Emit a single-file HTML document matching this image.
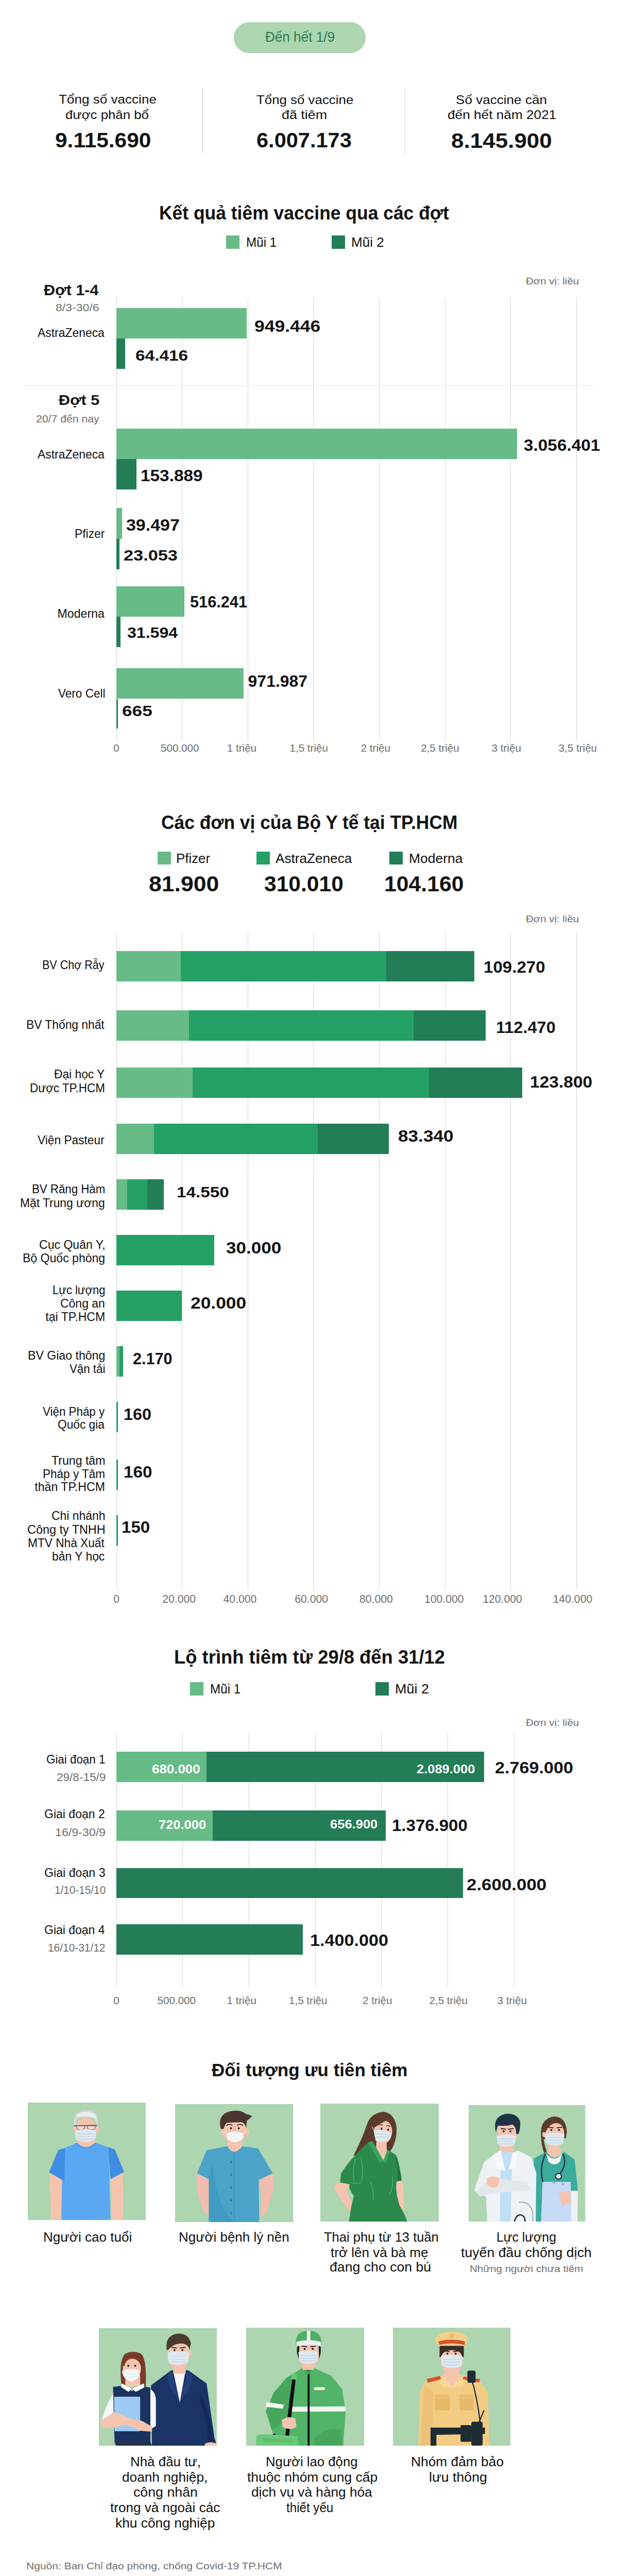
<!DOCTYPE html>
<html><head><meta charset="utf-8"><title>Infographic</title>
<style>
html,body{margin:0;padding:0;background:#fff;}
body{width:1200px;height:5144px;position:relative;overflow:hidden;font-family:"Liberation Sans",sans-serif;}
.t{position:absolute;white-space:nowrap;transform-origin:0 0;}
.b{font-weight:bold}
.q{position:absolute;}
svg{position:absolute;display:block}
</style></head><body>

<div class="q" style="left:454px;top:42.5px;width:256px;height:60.5px;background:#acd5b0;border-radius:31px;"></div>
<div class="q" style="left:393px;top:171.5px;width:1px;height:126px;background:#d0d0d0;"></div>
<div class="q" style="left:786px;top:171.5px;width:1px;height:126px;background:#d0d0d0;"></div>
<div class="q" style="left:439px;top:457px;width:26px;height:26px;background:#67bb87;"></div>
<div class="q" style="left:644px;top:457px;width:26px;height:26px;background:#237d57;"></div>
<div class="q" style="left:226px;top:578px;width:1px;height:859.5px;background:#d4d4d4;"></div>
<div class="q" style="left:353px;top:578px;width:1px;height:859.5px;background:#d4d4d4;"></div>
<div class="q" style="left:481px;top:578px;width:1px;height:859.5px;background:#d4d4d4;"></div>
<div class="q" style="left:608px;top:578px;width:1px;height:859.5px;background:#d4d4d4;"></div>
<div class="q" style="left:736px;top:578px;width:1px;height:859.5px;background:#d4d4d4;"></div>
<div class="q" style="left:864px;top:578px;width:1px;height:859.5px;background:#d4d4d4;"></div>
<div class="q" style="left:991px;top:578px;width:1px;height:859.5px;background:#d4d4d4;"></div>
<div class="q" style="left:1119px;top:578px;width:1px;height:859.5px;background:#d4d4d4;"></div>
<div class="q" style="left:46px;top:747.5px;width:1106px;height:1.5px;background:#e4e4e4;"></div>
<div class="q" style="left:226px;top:598px;width:253.3px;height:59px;background:#67bb87;"></div>
<div class="q" style="left:226px;top:657px;width:16.5px;height:59px;background:#237d57;"></div>
<div class="q" style="left:226px;top:832px;width:778px;height:59px;background:#67bb87;"></div>
<div class="q" style="left:226px;top:891px;width:39px;height:59px;background:#237d57;"></div>
<div class="q" style="left:226px;top:986px;width:10.5px;height:59.5px;background:#67bb87;"></div>
<div class="q" style="left:226px;top:1045.5px;width:6.2px;height:59.3px;background:#237d57;"></div>
<div class="q" style="left:226px;top:1138.3px;width:131.5px;height:59px;background:#67bb87;"></div>
<div class="q" style="left:226px;top:1197.3px;width:8px;height:58.7px;background:#237d57;"></div>
<div class="q" style="left:226px;top:1297.3px;width:247.3px;height:59.2px;background:#67bb87;"></div>
<div class="q" style="left:226px;top:1356.5px;width:3px;height:57.5px;background:#237d57;"></div>
<div class="q" style="left:306px;top:1652.5px;width:25.5px;height:25.5px;background:#67bb87;"></div>
<div class="q" style="left:498px;top:1652.5px;width:26px;height:25.5px;background:#25a064;"></div>
<div class="q" style="left:756px;top:1652.5px;width:26px;height:25.5px;background:#237d57;"></div>
<div class="q" style="left:226px;top:1810px;width:1px;height:1275px;background:#d4d4d4;"></div>
<div class="q" style="left:353px;top:1810px;width:1px;height:1275px;background:#d4d4d4;"></div>
<div class="q" style="left:481px;top:1810px;width:1px;height:1275px;background:#d4d4d4;"></div>
<div class="q" style="left:608px;top:1810px;width:1px;height:1275px;background:#d4d4d4;"></div>
<div class="q" style="left:736px;top:1810px;width:1px;height:1275px;background:#d4d4d4;"></div>
<div class="q" style="left:864px;top:1810px;width:1px;height:1275px;background:#d4d4d4;"></div>
<div class="q" style="left:991px;top:1810px;width:1px;height:1275px;background:#d4d4d4;"></div>
<div class="q" style="left:1119px;top:1810px;width:1px;height:1275px;background:#d4d4d4;"></div>
<div class="q" style="left:226px;top:1846px;width:125px;height:59px;background:#67bb87;"></div>
<div class="q" style="left:351px;top:1846px;width:398.5px;height:59px;background:#25a064;"></div>
<div class="q" style="left:749.5px;top:1846px;width:171.5px;height:59px;background:#237d57;"></div>
<div class="q" style="left:226px;top:1960.5px;width:140.5px;height:59px;background:#67bb87;"></div>
<div class="q" style="left:366.5px;top:1960.5px;width:436.5px;height:59px;background:#25a064;"></div>
<div class="q" style="left:803px;top:1960.5px;width:139.5px;height:59px;background:#237d57;"></div>
<div class="q" style="left:226px;top:2072px;width:148px;height:59px;background:#67bb87;"></div>
<div class="q" style="left:374px;top:2072px;width:459px;height:59px;background:#25a064;"></div>
<div class="q" style="left:833px;top:2072px;width:180.6px;height:59px;background:#237d57;"></div>
<div class="q" style="left:226px;top:2181px;width:72.8px;height:59px;background:#67bb87;"></div>
<div class="q" style="left:298.8px;top:2181px;width:317.8px;height:59px;background:#25a064;"></div>
<div class="q" style="left:616.6px;top:2181px;width:138.8px;height:59px;background:#237d57;"></div>
<div class="q" style="left:226px;top:2289px;width:21.2px;height:59px;background:#67bb87;"></div>
<div class="q" style="left:247.2px;top:2289px;width:38.8px;height:59px;background:#25a064;"></div>
<div class="q" style="left:286px;top:2289px;width:32px;height:59px;background:#237d57;"></div>
<div class="q" style="left:226px;top:2397px;width:190px;height:59px;background:#25a064;"></div>
<div class="q" style="left:226px;top:2505px;width:127px;height:59px;background:#25a064;"></div>
<div class="q" style="left:226px;top:2613px;width:6px;height:59px;background:#67bb87;"></div>
<div class="q" style="left:232px;top:2613px;width:6.6px;height:59px;background:#25a064;"></div>
<div class="q" style="left:226px;top:2721px;width:3px;height:59px;background:#25a064;"></div>
<div class="q" style="left:226px;top:2832.5px;width:3px;height:59px;background:#25a064;"></div>
<div class="q" style="left:226px;top:2940.6px;width:3px;height:59px;background:#25a064;"></div>
<div class="q" style="left:369px;top:3265px;width:26px;height:25.5px;background:#67bb87;"></div>
<div class="q" style="left:729px;top:3265px;width:26px;height:25.5px;background:#237d57;"></div>
<div class="q" style="left:226px;top:3363px;width:1px;height:494px;background:#d4d4d4;"></div>
<div class="q" style="left:354px;top:3363px;width:1px;height:494px;background:#d4d4d4;"></div>
<div class="q" style="left:483px;top:3363px;width:1px;height:494px;background:#d4d4d4;"></div>
<div class="q" style="left:612px;top:3363px;width:1px;height:494px;background:#d4d4d4;"></div>
<div class="q" style="left:740px;top:3363px;width:1px;height:494px;background:#d4d4d4;"></div>
<div class="q" style="left:869px;top:3363px;width:1px;height:494px;background:#d4d4d4;"></div>
<div class="q" style="left:998px;top:3363px;width:1px;height:494px;background:#d4d4d4;"></div>
<div class="q" style="left:226px;top:3400px;width:174.6px;height:58.5px;background:#67bb87;"></div>
<div class="q" style="left:400.6px;top:3400px;width:539.2px;height:58.5px;background:#237d57;"></div>
<div class="q" style="left:226px;top:3514.3px;width:186.6px;height:58.3px;background:#67bb87;"></div>
<div class="q" style="left:412.6px;top:3514.3px;width:336.2px;height:58.3px;background:#237d57;"></div>
<div class="q" style="left:226px;top:3625.6px;width:673.2px;height:58.6px;background:#237d57;"></div>
<div class="q" style="left:226px;top:3735px;width:362.3px;height:58.7px;background:#237d57;"></div>
<div class="t" style="left:514.5px;top:58.93px;font-size:26.89px;line-height:26.89px;color:#2b7d52;transform:scaleX(0.9710);">Đến hết 1/9</div>
<div class="t" style="left:114px;top:181.28px;font-size:24.71px;line-height:24.71px;color:#111;transform:scaleX(1.0556);">Tổng số vaccine</div>
<div class="t" style="left:126.96px;top:210.68px;font-size:24.71px;line-height:24.71px;color:#111;transform:scaleX(1.0447);">được phân bổ</div>
<div class="t b" style="left:106.97px;top:252.05px;font-size:41.28px;line-height:41.28px;color:#141414;transform:scaleX(1.0281);">9.115.690</div>
<div class="t" style="left:498.3px;top:181.58px;font-size:24.71px;line-height:24.71px;color:#111;transform:scaleX(1.0467);">Tổng số vaccine</div>
<div class="t" style="left:546.56px;top:210.78px;font-size:24.71px;line-height:24.71px;color:#111;transform:scaleX(1.0881);">đã tiêm</div>
<div class="t b" style="left:497.98px;top:252.02px;font-size:40.84px;line-height:40.84px;color:#141414;transform:scaleX(1.0171);">6.007.173</div>
<div class="t" style="left:884.94px;top:181.68px;font-size:24.71px;line-height:24.71px;color:#111;transform:scaleX(1.0562);">Số vaccine cần</div>
<div class="t" style="left:868.54px;top:210.68px;font-size:24.71px;line-height:24.71px;color:#111;transform:scaleX(1.0613);">đến hết năm 2021</div>
<div class="t b" style="left:876.12px;top:253.32px;font-size:40.84px;line-height:40.84px;color:#141414;transform:scaleX(1.0782);">8.145.900</div>
<div class="t b" style="left:309.29px;top:395.12px;font-size:37.06px;line-height:37.06px;color:#141414;transform:scaleX(0.9565);">Kết quả tiêm vaccine qua các đợt</div>
<div class="t" style="left:478.13px;top:457.69px;font-size:25.87px;line-height:25.87px;color:#111;transform:scaleX(0.9367);">Mũi 1</div>
<div class="t" style="left:681.59px;top:457.69px;font-size:25.87px;line-height:25.87px;color:#111;transform:scaleX(1.0057);">Mũi 2</div>
<div class="t" style="left:1020.5px;top:536.5px;font-size:18.9px;line-height:18.9px;color:#6e6e6e;transform:scaleX(1.0818);">Đơn vị: liều</div>
<div class="t b" style="left:85px;top:547.83px;font-size:30.09px;line-height:30.09px;color:#141414;transform:scaleX(1.0131);">Đợt 1-4</div>
<div class="t" style="left:108px;top:587.4px;font-size:20.78px;line-height:20.78px;color:#6e6e6e;transform:scaleX(1.1104);">8/3-30/6</div>
<div class="t" style="left:73px;top:635.13px;font-size:23.11px;line-height:23.11px;color:#111;transform:scaleX(0.9911);">AstraZeneca</div>
<div class="t b" style="left:493.84px;top:618.16px;font-size:30.52px;line-height:30.52px;color:#141414;transform:scaleX(1.1631);">949.446</div>
<div class="t b" style="left:262.88px;top:675.27px;font-size:29.8px;line-height:29.8px;color:#141414;transform:scaleX(1.1215);">64.416</div>
<div class="t b" style="left:114px;top:762.85px;font-size:28.05px;line-height:28.05px;color:#141414;transform:scaleX(1.0840);">Đợt 5</div>
<div class="t" style="left:69.59px;top:802.16px;font-size:21.08px;line-height:21.08px;color:#6e6e6e;transform:scaleX(1.0060);">20/7 đến nay</div>
<div class="t" style="left:73px;top:871.03px;font-size:23.11px;line-height:23.11px;color:#111;transform:scaleX(0.9911);">AstraZeneca</div>
<div class="t b" style="left:1017.4px;top:847.93px;font-size:31.98px;line-height:31.98px;color:#141414;transform:scaleX(1.0435);">3.056.401</div>
<div class="t b" style="left:272.94px;top:908.29px;font-size:31.54px;line-height:31.54px;color:#141414;transform:scaleX(1.0583);">153.889</div>
<div class="t" style="left:144.61px;top:1025.43px;font-size:23.11px;line-height:23.11px;color:#111;transform:scaleX(0.9884);">Pfizer</div>
<div class="t b" style="left:244.7px;top:1003.86px;font-size:30.52px;line-height:30.52px;color:#141414;transform:scaleX(1.1119);">39.497</div>
<div class="t b" style="left:240.14px;top:1063.32px;font-size:29.51px;line-height:29.51px;color:#141414;transform:scaleX(1.1630);">23.053</div>
<div class="t" style="left:111.6px;top:1179.73px;font-size:23.11px;line-height:23.11px;color:#111;">Moderna</div>
<div class="t b" style="left:369px;top:1152.66px;font-size:30.52px;line-height:30.52px;color:#141414;transform:scaleX(1.0060);">516.241</div>
<div class="t b" style="left:247px;top:1212.73px;font-size:30.09px;line-height:30.09px;color:#141414;transform:scaleX(1.0664);">31.594</div>
<div class="t" style="left:112.6px;top:1335.43px;font-size:23.11px;line-height:23.11px;color:#111;transform:scaleX(0.9759);">Vero Cell</div>
<div class="t b" style="left:481.6px;top:1305.63px;font-size:31.98px;line-height:31.98px;color:#141414;">971.987</div>
<div class="t b" style="left:237.31px;top:1365.02px;font-size:29.51px;line-height:29.51px;color:#141414;transform:scaleX(1.1942);">665</div>
<div class="t" style="left:220.3px;top:1442.22px;font-size:20.64px;line-height:20.64px;color:#6e6e6e;">0</div>
<div class="t" style="left:311.96px;top:1442.22px;font-size:20.64px;line-height:20.64px;color:#6e6e6e;">500.000</div>
<div class="t" style="left:440.77px;top:1442.22px;font-size:20.64px;line-height:20.64px;color:#6e6e6e;">1 triệu</div>
<div class="t" style="left:562.47px;top:1442.22px;font-size:20.64px;line-height:20.64px;color:#6e6e6e;">1,5 triệu</div>
<div class="t" style="left:700.67px;top:1442.22px;font-size:20.64px;line-height:20.64px;color:#6e6e6e;">2 triệu</div>
<div class="t" style="left:817.17px;top:1442.22px;font-size:20.64px;line-height:20.64px;color:#6e6e6e;">2,5 triệu</div>
<div class="t" style="left:954.57px;top:1442.22px;font-size:20.64px;line-height:20.64px;color:#6e6e6e;">3 triệu</div>
<div class="t" style="left:1084.57px;top:1442.22px;font-size:20.64px;line-height:20.64px;color:#6e6e6e;">3,5 triệu</div>
<div class="t b" style="left:312.98px;top:1579.23px;font-size:36.34px;line-height:36.34px;color:#141414;transform:scaleX(0.9734);">Các đơn vị của Bộ Y tế tại TP.HCM</div>
<div class="t" style="left:341.62px;top:1653.25px;font-size:26.16px;line-height:26.16px;color:#111;transform:scaleX(0.9885);">Pfizer</div>
<div class="t" style="left:535px;top:1653.25px;font-size:26.16px;line-height:26.16px;color:#111;">AstraZeneca</div>
<div class="t" style="left:793.97px;top:1653.25px;font-size:26.16px;line-height:26.16px;color:#111;transform:scaleX(1.0129);">Moderna</div>
<div class="t b" style="left:289.34px;top:1695.31px;font-size:42.15px;line-height:42.15px;color:#141414;transform:scaleX(1.0581);">81.900</div>
<div class="t b" style="left:512.6px;top:1695.31px;font-size:42.15px;line-height:42.15px;color:#141414;transform:scaleX(1.0100);">310.010</div>
<div class="t b" style="left:745.97px;top:1695.31px;font-size:42.15px;line-height:42.15px;color:#141414;transform:scaleX(1.0142);">104.160</div>
<div class="t" style="left:1020.5px;top:1774.5px;font-size:18.9px;line-height:18.9px;color:#6e6e6e;transform:scaleX(1.0818);">Đơn vị: liều</div>
<div class="t" style="left:82.37px;top:1862.13px;font-size:23.11px;line-height:23.11px;color:#111;transform:scaleX(0.9309);">BV Chợ Rẫy</div>
<div class="t b" style="left:938.95px;top:1861.99px;font-size:31.54px;line-height:31.54px;color:#141414;transform:scaleX(1.0494);">109.270</div>
<div class="t" style="left:50.61px;top:1978.03px;font-size:23.11px;line-height:23.11px;color:#111;transform:scaleX(0.9867);">BV Thống nhất</div>
<div class="t b" style="left:962.66px;top:1978.54px;font-size:31.25px;line-height:31.25px;color:#141414;transform:scaleX(1.0404);">112.470</div>
<div class="t" style="left:105px;top:2074.43px;font-size:23.11px;line-height:23.11px;color:#111;transform:scaleX(0.9852);">Đại học Y</div>
<div class="t" style="left:58.33px;top:2101.13px;font-size:23.11px;line-height:23.11px;color:#111;transform:scaleX(0.9688);">Dược TP.HCM</div>
<div class="t b" style="left:1029.41px;top:2086.31px;font-size:30.81px;line-height:30.81px;color:#141414;transform:scaleX(1.0889);">123.800</div>
<div class="t" style="left:73.3px;top:2202.13px;font-size:23.11px;line-height:23.11px;color:#111;transform:scaleX(0.9833);">Viện Pasteur</div>
<div class="t b" style="left:773.49px;top:2189.57px;font-size:31.69px;line-height:31.69px;color:#141414;transform:scaleX(1.1096);">83.340</div>
<div class="t" style="left:62.34px;top:2297.13px;font-size:23.11px;line-height:23.11px;color:#111;transform:scaleX(0.9625);">BV Răng Hàm</div>
<div class="t" style="left:39.01px;top:2323.73px;font-size:23.11px;line-height:23.11px;color:#111;transform:scaleX(0.9876);">Mặt Trung ương</div>
<div class="t b" style="left:343.49px;top:2299.23px;font-size:30.09px;line-height:30.09px;color:#141414;transform:scaleX(1.1067);">14.550</div>
<div class="t" style="left:75.7px;top:2404.73px;font-size:23.11px;line-height:23.11px;color:#111;transform:scaleX(0.9976);">Cục Quân Y,</div>
<div class="t" style="left:44px;top:2431.43px;font-size:23.11px;line-height:23.11px;color:#111;transform:scaleX(0.9972);">Bộ Quốc phòng</div>
<div class="t b" style="left:439.3px;top:2406.76px;font-size:30.52px;line-height:30.52px;color:#141414;transform:scaleX(1.1487);">30.000</div>
<div class="t" style="left:101.75px;top:2493.13px;font-size:23.11px;line-height:23.11px;color:#111;transform:scaleX(0.9499);">Lực lượng</div>
<div class="t" style="left:117.31px;top:2518.73px;font-size:23.11px;line-height:23.11px;color:#111;transform:scaleX(0.9939);">Công an</div>
<div class="t" style="left:88.3px;top:2545.43px;font-size:23.11px;line-height:23.11px;color:#111;">tại TP.HCM</div>
<div class="t b" style="left:369.64px;top:2514.16px;font-size:30.52px;line-height:30.52px;color:#141414;transform:scaleX(1.1591);">20.000</div>
<div class="t" style="left:54px;top:2620.43px;font-size:23.11px;line-height:23.11px;color:#111;">BV Giao thông</div>
<div class="t" style="left:135px;top:2646.43px;font-size:23.11px;line-height:23.11px;color:#111;transform:scaleX(0.9645);">Vận tải</div>
<div class="t b" style="left:258.03px;top:2622.02px;font-size:31.4px;line-height:31.4px;color:#141414;transform:scaleX(0.9732);">2.170</div>
<div class="t" style="left:82.7px;top:2728.73px;font-size:23.11px;line-height:23.11px;color:#111;transform:scaleX(0.9675);">Viện Pháp y</div>
<div class="t" style="left:112.32px;top:2754.43px;font-size:23.11px;line-height:23.11px;color:#111;transform:scaleX(0.9821);">Quốc gia</div>
<div class="t b" style="left:239.77px;top:2729.72px;font-size:31.4px;line-height:31.4px;color:#141414;transform:scaleX(1.0315);">160</div>
<div class="t" style="left:100px;top:2823.73px;font-size:23.11px;line-height:23.11px;color:#111;">Trung tâm</div>
<div class="t" style="left:83.02px;top:2849.73px;font-size:23.11px;line-height:23.11px;color:#111;transform:scaleX(0.9752);">Pháp y Tâm</div>
<div class="t" style="left:67.3px;top:2875.43px;font-size:23.11px;line-height:23.11px;color:#111;">thần TP.HCM</div>
<div class="t b" style="left:240.42px;top:2840.93px;font-size:31.98px;line-height:31.98px;color:#141414;transform:scaleX(1.0423);">160</div>
<div class="t" style="left:99.71px;top:2931.43px;font-size:23.11px;line-height:23.11px;color:#111;transform:scaleX(0.9913);">Chi nhánh</div>
<div class="t" style="left:52.99px;top:2958.03px;font-size:23.11px;line-height:23.11px;color:#111;transform:scaleX(1.0118);">Công ty TNHH</div>
<div class="t" style="left:54.02px;top:2984.43px;font-size:23.11px;line-height:23.11px;color:#111;transform:scaleX(0.9813);">MTV Nhà Xuất</div>
<div class="t" style="left:100.71px;top:3010.43px;font-size:23.11px;line-height:23.11px;color:#111;transform:scaleX(0.9911);">bản Y học</div>
<div class="t b" style="left:236.21px;top:2948.97px;font-size:31.69px;line-height:31.69px;color:#141414;transform:scaleX(1.0452);">150</div>
<div class="t" style="left:220.3px;top:3093.33px;font-size:21.22px;line-height:21.22px;color:#6e6e6e;">0</div>
<div class="t" style="left:315.25px;top:3093.33px;font-size:21.22px;line-height:21.22px;color:#6e6e6e;">20.000</div>
<div class="t" style="left:433.45px;top:3093.33px;font-size:21.22px;line-height:21.22px;color:#6e6e6e;">40.000</div>
<div class="t" style="left:572.15px;top:3093.33px;font-size:21.22px;line-height:21.22px;color:#6e6e6e;">60.000</div>
<div class="t" style="left:697.95px;top:3093.33px;font-size:21.22px;line-height:21.22px;color:#6e6e6e;">80.000</div>
<div class="t" style="left:823.95px;top:3093.33px;font-size:21.22px;line-height:21.22px;color:#6e6e6e;">100.000</div>
<div class="t" style="left:937.15px;top:3093.33px;font-size:21.22px;line-height:21.22px;color:#6e6e6e;">120.000</div>
<div class="t" style="left:1073.55px;top:3093.33px;font-size:21.22px;line-height:21.22px;color:#6e6e6e;">140.000</div>
<div class="t b" style="left:337.96px;top:3199.49px;font-size:36.63px;line-height:36.63px;color:#141414;transform:scaleX(0.9940);">Lộ trình tiêm từ 29/8 đến 31/12</div>
<div class="t" style="left:408.13px;top:3265.69px;font-size:25.87px;line-height:25.87px;color:#111;transform:scaleX(0.9367);">Mũi 1</div>
<div class="t" style="left:766.91px;top:3265.69px;font-size:25.87px;line-height:25.87px;color:#111;transform:scaleX(1.0435);">Mũi 2</div>
<div class="t" style="left:1020.5px;top:3334.5px;font-size:18.9px;line-height:18.9px;color:#6e6e6e;transform:scaleX(1.0818);">Đơn vị: liều</div>
<div class="t b" style="left:295px;top:3423.01px;font-size:23.26px;line-height:23.26px;color:#fff;transform:scaleX(1.1142);">680.000</div>
<div class="t b" style="left:808.9px;top:3423.31px;font-size:23.26px;line-height:23.26px;color:#fff;transform:scaleX(1.0956);">2.089.000</div>
<div class="t b" style="left:960.58px;top:3416.16px;font-size:30.52px;line-height:30.52px;color:#141414;transform:scaleX(1.1197);">2.769.000</div>
<div class="t" style="left:89.73px;top:3403.73px;font-size:23.11px;line-height:23.11px;color:#111;transform:scaleX(0.9678);">Giai đoạn 1</div>
<div class="t" style="left:109.54px;top:3439.33px;font-size:21.22px;line-height:21.22px;color:#6e6e6e;transform:scaleX(1.0630);">29/8-15/9</div>
<div class="t b" style="left:308.2px;top:3530.91px;font-size:23.26px;line-height:23.26px;color:#fff;transform:scaleX(1.0961);">720.000</div>
<div class="t b" style="left:641px;top:3530.31px;font-size:23.26px;line-height:23.26px;color:#fff;transform:scaleX(1.0985);">656.900</div>
<div class="t b" style="left:761.22px;top:3528.16px;font-size:30.52px;line-height:30.52px;color:#141414;transform:scaleX(1.0816);">1.376.900</div>
<div class="t" style="left:86.3px;top:3510.43px;font-size:23.11px;line-height:23.11px;color:#111;transform:scaleX(0.9970);">Giai đoạn 2</div>
<div class="t" style="left:106.91px;top:3546.03px;font-size:21.22px;line-height:21.22px;color:#6e6e6e;transform:scaleX(1.0926);">16/9-30/9</div>
<div class="t b" style="left:906.48px;top:3643.04px;font-size:31.25px;line-height:31.25px;color:#141414;transform:scaleX(1.1167);">2.600.000</div>
<div class="t" style="left:85.6px;top:3623.73px;font-size:23.11px;line-height:23.11px;color:#111;transform:scaleX(1.0030);">Giai đoạn 3</div>
<div class="t" style="left:105.62px;top:3658.03px;font-size:21.22px;line-height:21.22px;color:#6e6e6e;transform:scaleX(0.9773);">1/10-15/10</div>
<div class="t b" style="left:602.18px;top:3751.46px;font-size:30.52px;line-height:30.52px;color:#141414;transform:scaleX(1.1190);">1.400.000</div>
<div class="t" style="left:85.61px;top:3735.43px;font-size:23.11px;line-height:23.11px;color:#111;transform:scaleX(0.9945);">Giai đoạn 4</div>
<div class="t" style="left:93.32px;top:3770.33px;font-size:21.22px;line-height:21.22px;color:#6e6e6e;transform:scaleX(0.9842);">16/10-31/12</div>
<div class="t" style="left:220.3px;top:3872.52px;font-size:20.64px;line-height:20.64px;color:#6e6e6e;">0</div>
<div class="t" style="left:305.46px;top:3872.52px;font-size:20.64px;line-height:20.64px;color:#6e6e6e;">500.000</div>
<div class="t" style="left:440.57px;top:3872.52px;font-size:20.64px;line-height:20.64px;color:#6e6e6e;">1 triệu</div>
<div class="t" style="left:560.97px;top:3872.52px;font-size:20.64px;line-height:20.64px;color:#6e6e6e;">1,5 triệu</div>
<div class="t" style="left:704.07px;top:3872.52px;font-size:20.64px;line-height:20.64px;color:#6e6e6e;">2 triệu</div>
<div class="t" style="left:833.47px;top:3872.52px;font-size:20.64px;line-height:20.64px;color:#6e6e6e;">2,5 triệu</div>
<div class="t" style="left:965.57px;top:3872.52px;font-size:20.64px;line-height:20.64px;color:#6e6e6e;">3 triệu</div>
<div class="t b" style="left:410.95px;top:4001.43px;font-size:35.76px;line-height:35.76px;color:#141414;transform:scaleX(0.9780);">Đối tượng ưu tiên tiêm</div>
<div class="t" style="left:83.92px;top:4329.82px;font-size:25.73px;line-height:25.73px;color:#111;transform:scaleX(1.0139);">Người cao tuổi</div>
<div class="t" style="left:346.73px;top:4329.82px;font-size:25.73px;line-height:25.73px;color:#111;transform:scaleX(1.0086);">Người bệnh lý nền</div>
<div class="t" style="left:629.45px;top:4329.82px;font-size:25.73px;line-height:25.73px;color:#111;transform:scaleX(0.9922);">Thai phụ từ 13 tuần</div>
<div class="t" style="left:642.45px;top:4359.52px;font-size:25.73px;line-height:25.73px;color:#111;transform:scaleX(1.0130);">trở lên và bà mẹ</div>
<div class="t" style="left:639.96px;top:4388.42px;font-size:25.73px;line-height:25.73px;color:#111;transform:scaleX(1.0368);">đang cho con bú</div>
<div class="t" style="left:964.07px;top:4329.82px;font-size:25.73px;line-height:25.73px;color:#111;transform:scaleX(0.9672);">Lực lượng</div>
<div class="t" style="left:895.35px;top:4359.52px;font-size:25.73px;line-height:25.73px;color:#111;transform:scaleX(1.0382);">tuyến đầu chống dịch</div>
<div class="t" style="left:911.73px;top:4393.96px;font-size:19.19px;line-height:19.19px;color:#6e6e6e;transform:scaleX(1.0715);">Những người chưa tiêm</div>
<div class="t" style="left:253.24px;top:4765.92px;font-size:25.73px;line-height:25.73px;color:#111;transform:scaleX(1.0073);">Nhà đầu tư,</div>
<div class="t" style="left:237.43px;top:4795.52px;font-size:25.73px;line-height:25.73px;color:#111;transform:scaleX(1.0200);">doanh nghiệp,</div>
<div class="t" style="left:258.51px;top:4825.42px;font-size:25.73px;line-height:25.73px;color:#111;transform:scaleX(1.0397);">công nhân</div>
<div class="t" style="left:214.3px;top:4855.42px;font-size:25.73px;line-height:25.73px;color:#111;transform:scaleX(1.0147);">trong và ngoài các</div>
<div class="t" style="left:223.98px;top:4885.22px;font-size:25.73px;line-height:25.73px;color:#111;transform:scaleX(1.0242);">khu công nghiệp</div>
<div class="t" style="left:516px;top:4765.92px;font-size:25.73px;line-height:25.73px;color:#111;">Người lao động</div>
<div class="t" style="left:479.6px;top:4795.52px;font-size:25.73px;line-height:25.73px;color:#111;transform:scaleX(1.0300);">thuộc nhóm cung cấp</div>
<div class="t" style="left:487.88px;top:4825.42px;font-size:25.73px;line-height:25.73px;color:#111;transform:scaleX(1.0195);">dịch vụ và hàng hóa</div>
<div class="t" style="left:555.5px;top:4855.42px;font-size:25.73px;line-height:25.73px;color:#111;transform:scaleX(0.9383);">thiết yếu</div>
<div class="t" style="left:798px;top:4765.92px;font-size:25.73px;line-height:25.73px;color:#111;transform:scaleX(1.0240);">Nhóm đảm bảo</div>
<div class="t" style="left:833.01px;top:4795.52px;font-size:25.73px;line-height:25.73px;color:#111;transform:scaleX(1.0382);">lưu thông</div>
<div class="t" style="left:51.3px;top:4971.36px;font-size:19.19px;line-height:19.19px;color:#6e6e6e;transform:scaleX(1.0972);">Nguồn: Ban Chỉ đạo phòng, chống Covid-19 TP.HCM</div>
<div class="t" style="left:124px;top:5001.76px;font-size:19.19px;line-height:19.19px;color:#6e6e6e;transform:scaleX(1.1133);">Cổng thông tin tiêm chủng Covid-19</div>
<div class="t b" style="left:52.9px;top:5049.94px;font-size:42.59px;line-height:42.59px;color:#1b2e47;transform:scaleX(1.1000);-webkit-text-stroke:0.9px #1b2e47;">I</div>
<div class="t b" style="left:67.73px;top:5049.94px;font-size:42.59px;line-height:42.59px;color:#1b2e47;transform:scaleX(1.0346);-webkit-text-stroke:0.9px #1b2e47;">N</div>
<div class="t b" style="left:103.22px;top:5049.94px;font-size:42.59px;line-height:42.59px;color:#1b2e47;transform:scaleX(0.6913);-webkit-text-stroke:0.9px #1b2e47;">F</div>
<div class="t b" style="left:123.97px;top:5049.94px;font-size:42.59px;line-height:42.59px;color:#1b2e47;transform:scaleX(1.0323);-webkit-text-stroke:0.9px #1b2e47;">O</div>
<div class="t b" style="left:160.07px;top:5049.94px;font-size:42.59px;line-height:42.59px;color:#1b2e47;transform:scaleX(0.9310);-webkit-text-stroke:0.9px #1b2e47;">C</div>
<div class="t b" style="left:196.09px;top:5049.94px;font-size:42.59px;line-height:42.59px;color:#1b2e47;transform:scaleX(0.8036);-webkit-text-stroke:0.9px #1b2e47;">R</div>
<div class="t b" style="left:220.96px;top:5049.94px;font-size:42.59px;line-height:42.59px;color:#1b2e47;transform:scaleX(1.0448);-webkit-text-stroke:0.9px #1b2e47;">A</div>
<div class="t b" style="left:257.02px;top:5049.94px;font-size:42.59px;line-height:42.59px;color:#1b2e47;transform:scaleX(0.8400);-webkit-text-stroke:0.9px #1b2e47;">P</div>
<div class="t b" style="left:284.06px;top:5049.94px;font-size:42.59px;line-height:42.59px;color:#1b2e47;transform:scaleX(0.8192);-webkit-text-stroke:0.9px #1b2e47;">H</div>
<div class="t b" style="left:311.13px;top:5049.94px;font-size:42.59px;line-height:42.59px;color:#1b2e47;transform:scaleX(1.2857);-webkit-text-stroke:0.9px #1b2e47;">I</div>
<div class="t b" style="left:330.64px;top:5049.94px;font-size:42.59px;line-height:42.59px;color:#1b2e47;transform:scaleX(0.9552);-webkit-text-stroke:0.9px #1b2e47;">C</div>
<svg style="left:54px;top:4081px" width="229" height="228" viewBox="0 0 600 600" preserveAspectRatio="none"><rect width="600" height="600" fill="#acd5b0"/><path d="M112,365 L186,392 L178,600 L118,600 Z" fill="#f4c4ae"/><path d="M420,385 L484,360 L486,600 L428,600 Z" fill="#f4c4ae"/><path d="M252,185 L340,185 L345,240 L248,240 Z" fill="#f4c4ae"/><path d="M178,236 L251,205 Q295,250 343,205 L412,228 L420,600 L170,600 Z" fill="#5aa8f1"/><path d="M108,356 L155,242 L190,232 L186,402 Z" fill="#3f8de2"/><path d="M410,228 L442,240 L490,354 L420,392 Z" fill="#3f8de2"/><path d="M251,205 Q295,250 343,205 L352,212 Q295,262 242,212 Z" fill="#4f9fec"/><ellipse cx="296" cy="150" rx="54" ry="74" fill="#f4c4ae"/><ellipse cx="240" cy="138" rx="10" ry="16" fill="#f4c4ae"/><ellipse cx="354" cy="138" rx="10" ry="16" fill="#f4c4ae"/><path d="M234,115 Q224,48 292,37 Q356,36 358,100 L356,115 L346,112 Q344,84 330,78 Q295,72 256,80 Q246,92 246,115 Z" fill="#d6d6d6"/><path d="M250,62 Q292,38 340,58 Q352,70 346,82 Q300,62 252,76 Z" fill="#ededed"/><path d="M234,119 L352,117" stroke="#4a5666" stroke-width="4.5"/><path d="M248,119 L290,119 Q290,140 270,140 Q248,140 248,119 Z" fill="#f6d5c8" stroke="#4a5666" stroke-width="2.5"/><path d="M302,119 L344,119 Q344,140 324,140 Q302,140 302,119 Z" fill="#f6d5c8" stroke="#4a5666" stroke-width="2.5"/><path d="M240,143.64 Q294.0,129.24 348,143.64 L342.6,189.0 Q294.0,212.76 245.4,189.0 Z" fill="#dfe9f1"/><path d="M250.8,158.76 Q294.0,162.76 337.2,158.76" stroke="#b9cfe0" stroke-width="3" fill="none"/><path d="M250.8,172.44 Q294.0,176.44 337.2,172.44" stroke="#b9cfe0" stroke-width="3" fill="none"/><path d="M250.8,185.4 Q294.0,189.4 337.2,185.4" stroke="#b9cfe0" stroke-width="3" fill="none"/></svg>
<svg style="left:340px;top:4084px" width="229" height="229" viewBox="0 0 600 600" preserveAspectRatio="none"><rect width="600" height="600" fill="#acd5b0"/><path d="M108,355 L175,382 L178,470 L172,575 L140,540 L112,440 Z" fill="#f2bcae"/><path d="M425,382 L497,352 L502,430 L462,560 L432,575 L440,470 Z" fill="#f2bcae"/><path d="M268,185 L340,185 L345,250 L262,250 Z" fill="#f4c4ae"/><path d="M160,235 L265,214 Q300,270 342,214 L422,226 L497,352 L425,386 L428,600 L172,600 L172,382 L112,352 Z" fill="#4ba3c9"/><path d="M172,382 L172,600 L300,600 Q210,520 190,300 Z" fill="#409ac1"/><path d="M300,250 L302,600" stroke="#3b8db3" stroke-width="3"/><circle cx="285" cy="295" r="6" fill="#2e7ea3"/><circle cx="285" cy="360" r="6" fill="#2e7ea3"/><circle cx="285" cy="425" r="6" fill="#2e7ea3"/><circle cx="285" cy="490" r="6" fill="#2e7ea3"/><circle cx="285" cy="555" r="6" fill="#2e7ea3"/><ellipse cx="305" cy="140" rx="56" ry="72" fill="#f4c4ae"/><ellipse cx="245" cy="140" rx="12" ry="18" fill="#f4c4ae"/><ellipse cx="364" cy="140" rx="12" ry="18" fill="#f4c4ae"/><path d="M232,125 Q215,55 275,38 Q330,25 360,50 Q380,55 392,62 Q378,75 365,85 L362,120 Q355,95 335,92 Q290,95 262,95 Q250,110 246,128 Z" fill="#4a3530"/><circle cx="284" cy="123" r="5" fill="#1d1d2b"/><circle cx="324" cy="123" r="5" fill="#1d1d2b"/><path d="M262,108 Q275,99 290,107 M316,107 Q331,99 344,108" stroke="#2a2323" stroke-width="4.5" fill="none" stroke-linecap="round"/><path d="M262,150 Q300,128 346,150 Q352,188 304,195 Q256,190 262,150 Z" fill="#f4f4f4"/><path d="M248,140 L264,152 M360,140 L344,152" stroke="#f4f4f4" stroke-width="3"/></svg>
<svg style="left:622px;top:4083px" width="230" height="229" viewBox="0 0 600 600" preserveAspectRatio="none"><rect width="600" height="600" fill="#acd5b0"/><path d="M168,265 Q210,185 240,95 Q265,45 322,42 Q375,50 386,118 Q390,195 352,245 L300,250 Z" fill="#5b3a2f"/><path d="M68,428 Q80,405 105,392 L152,410 L132,440 L168,525 L150,552 Q110,500 68,428 Z" fill="#f4c4ae"/><path d="M384,392 L416,396 Q428,470 422,600 L378,600 Q394,480 384,392 Z" fill="#f4c4ae"/><path d="M284,180 L335,180 L338,262 L318,292 L282,240 Z" fill="#f4c4ae"/><path d="M105,356 Q150,282 242,198 L318,296 L340,234 L384,262 Q402,320 412,392 L386,396 Q378,450 402,520 Q430,565 440,600 L145,600 Q155,520 170,470 Q140,430 148,410 L100,402 Z" fill="#2b8a4b"/><path d="M388,270 Q405,330 412,392 L392,392 Q395,330 380,280 Z" fill="#22763f"/><path d="M242,198 L264,192 L322,292 L302,302 Z" fill="#3aa45c"/><path d="M318,296 L340,234 L352,244 L334,302 Z" fill="#3aa45c"/><path d="M178,280 Q160,340 170,392" stroke="#55c070" stroke-width="3" fill="none"/><path d="M205,270 Q220,330 210,392" stroke="#55c070" stroke-width="3" fill="none"/><path d="M255,400 Q272,450 268,490" stroke="#55c070" stroke-width="3" fill="none"/><path d="M365,370 Q372,420 352,460" stroke="#55c070" stroke-width="3" fill="none"/><path d="M150,400 Q185,412 210,398" stroke="#55c070" stroke-width="3" fill="none"/><ellipse cx="318" cy="140" rx="46" ry="64" fill="#f4c4ae"/><path d="M266,118 Q276,62 330,60 Q376,66 376,125 L364,128 Q356,96 332,88 Q300,104 274,122 Z" fill="#5b3a2f"/><ellipse cx="310" cy="128" rx="4.5" ry="6" fill="#1d1d4b"/><ellipse cx="344" cy="133" rx="4.5" ry="6" fill="#1d1d4b"/><path d="M296,110 Q306,104 318,110 M334,114 Q346,110 356,118" stroke="#3a2a25" stroke-width="3.5" fill="none"/><path d="M270,138 Q315,125 358,150 L352,180 Q320,206 280,188 Z" fill="#dfe9f1"/><path d="M282,155 Q318,150 350,165 M284,170 Q316,166 348,180" stroke="#b9cfe0" stroke-width="3" fill="none"/><path d="M262,118 L274,142" stroke="#dfe9f1" stroke-width="3"/></svg>
<svg style="left:910px;top:4085.7px" width="226.5" height="226.5" viewBox="0 0 600 600" preserveAspectRatio="none"><rect width="600" height="600" fill="#acd5b0"/><path d="M372,150 Q368,70 440,58 Q502,60 505,140 L500,170 L385,175 Q392,215 405,250 L392,255 Q372,210 372,150 Z" fill="#5b3a2f"/><ellipse cx="442" cy="152" rx="50" ry="70" fill="#f4c4ae"/><ellipse cx="390" cy="150" rx="11" ry="16" fill="#f4c4ae"/><path d="M384,140 Q384,72 442,66 Q500,70 502,135 L494,132 Q488,96 450,92 Q412,96 396,140 Z" fill="#5b3a2f"/><circle cx="425" cy="128" r="5" fill="#1d1d2b"/><circle cx="465" cy="128" r="5" fill="#1d1d2b"/><path d="M411,114 L435,117" stroke="#2a2323" stroke-width="5" stroke-linecap="round"/><path d="M455,117 L479,114" stroke="#2a2323" stroke-width="5" stroke-linecap="round"/><path d="M392,149.0 Q442.0,134.0 492,149.0 L487.0,196.25 Q442.0,221.0 397.0,196.25 Z" fill="#dfe9f1"/><path d="M402.0,164.75 Q442.0,168.75 482.0,164.75" stroke="#b9cfe0" stroke-width="3" fill="none"/><path d="M402.0,179.0 Q442.0,183.0 482.0,179.0" stroke="#b9cfe0" stroke-width="3" fill="none"/><path d="M402.0,192.5 Q442.0,196.5 482.0,192.5" stroke="#b9cfe0" stroke-width="3" fill="none"/><path d="M410,210 L470,210 L475,270 L405,270 Z" fill="#f4c4ae"/><path d="M335,275 L400,240 Q440,300 490,240 L545,280 L562,440 L530,450 L520,600 L345,600 Z" fill="#3aab9c"/><path d="M400,250 Q440,300 480,250 L470,290 Q440,320 410,290 Z" fill="#f2f4f6"/><path d="M525,440 L562,440 L560,600 L520,600 Z" fill="#eef1f4"/><path d="M395,250 Q360,330 385,405" stroke="#2b3a48" stroke-width="7" fill="none"/><path d="M485,250 Q510,310 462,362" stroke="#2b3a48" stroke-width="7" fill="none"/><circle cx="462" cy="366" r="15" fill="#e8eef2" stroke="#2b3a48" stroke-width="6"/><path d="M380,395 L525,395 L528,600 L372,600 Z" fill="#c7daf6"/><circle cx="440" cy="400" r="7" fill="#9fb8e6"/><circle cx="485" cy="405" r="7" fill="#9fb8e6"/><path d="M462,450 L520,440 L528,500 L480,520 Z" fill="#f4c4ae"/><path d="M160,200 L230,200 L232,260 L158,260 Z" fill="#f4c4ae"/><path d="M28,440 L80,292 L160,232 L200,255 L255,233 L322,268 L348,350 L345,600 L96,600 L88,470 Z" fill="#eef1f5"/><path d="M165,240 L225,240 L215,600 L160,600 Z" fill="#bfe0f4"/><path d="M128,250 L165,240 L190,340 L150,330 Z" fill="#f8f9fb"/><path d="M255,240 L230,245 L205,330 L240,325 Z" fill="#f8f9fb"/><path d="M40,450 Q90,380 140,375 L240,390 L300,395 L320,440 L130,450 L60,470 Z" fill="#e2e7ec"/><path d="M95,375 Q120,360 160,375 L150,420 Q110,430 92,405 Z" fill="#f4c4ae"/><path d="M258,500 Q320,490 330,560 L330,600" stroke="#9aa7b2" stroke-width="5" fill="none"/><path d="M235,600 Q245,560 270,565 Q290,570 290,600" stroke="#2b3a48" stroke-width="7" fill="none"/><ellipse cx="198" cy="150" rx="50" ry="72" fill="#f4c4ae"/><ellipse cx="244" cy="150" rx="11" ry="17" fill="#f4c4ae"/><path d="M140,140 Q120,60 190,45 Q250,40 265,85 Q268,120 255,150 L245,148 Q245,110 225,100 Q190,110 150,105 Z" fill="#1f3346"/><circle cx="180" cy="135" r="5" fill="#1d1d2b"/><circle cx="215" cy="135" r="5" fill="#1d1d2b"/><path d="M166,121 L190,124" stroke="#2a2323" stroke-width="5" stroke-linecap="round"/><path d="M205,124 L229,121" stroke="#2a2323" stroke-width="5" stroke-linecap="round"/><path d="M145,158.16 Q193.5,144.56 242,158.16 L237.15,201.0 Q193.5,223.44 149.85,201.0 Z" fill="#dfe9f1"/><path d="M154.7,172.44 Q193.5,176.44 232.3,172.44" stroke="#b9cfe0" stroke-width="3" fill="none"/><path d="M154.7,185.36 Q193.5,189.36 232.3,185.36" stroke="#b9cfe0" stroke-width="3" fill="none"/><path d="M154.7,197.6 Q193.5,201.6 232.3,197.6" stroke="#b9cfe0" stroke-width="3" fill="none"/></svg>
<svg style="left:192px;top:4519px" width="229" height="228" viewBox="0 0 600 600" preserveAspectRatio="none"><rect width="600" height="600" fill="#acd5b0"/><path d="M265,292 L368,215 L455,215 L548,282 L588,560 L600,600 L270,600 Z" fill="#1b3465"/><path d="M378,220 L440,220 L412,380 Z" fill="#f5f6f8"/><path d="M368,215 L410,375 L370,320 L345,250 Z" fill="#24407a"/><path d="M455,215 L414,375 L455,320 L480,250 Z" fill="#24407a"/><path d="M510,370 Q560,480 552,590 L590,590 Q570,450 520,340 Z" fill="#15295a"/><path d="M540,590 Q570,575 600,590 L600,600 L538,600 Z" fill="#f4c4ae"/><path d="M380,170 L440,170 L442,232 L378,232 Z" fill="#f4c4ae"/><ellipse cx="405" cy="135" rx="55" ry="80" fill="#f4c4ae"/><ellipse cx="460" cy="130" rx="11" ry="16" fill="#f4c4ae"/><path d="M345,110 Q335,40 395,28 Q455,22 468,75 L462,110 Q455,80 420,78 Q378,78 352,112 Z" fill="#4b3a30"/><circle cx="385" cy="112" r="5" fill="#1d1d2b"/><circle cx="425" cy="112" r="5" fill="#1d1d2b"/><path d="M371,98 L395,101" stroke="#2a2323" stroke-width="5" stroke-linecap="round"/><path d="M415,101 L439,98" stroke="#2a2323" stroke-width="5" stroke-linecap="round"/><path d="M350,124.6 Q404.0,108.6 458,124.6 L452.6,175.0 Q404.0,201.4 355.4,175.0 Z" fill="#dfe9f1"/><path d="M360.8,141.4 Q404.0,145.4 447.2,141.4" stroke="#b9cfe0" stroke-width="3" fill="none"/><path d="M360.8,156.6 Q404.0,160.6 447.2,156.6" stroke="#b9cfe0" stroke-width="3" fill="none"/><path d="M360.8,171.0 Q404.0,175.0 447.2,171.0" stroke="#b9cfe0" stroke-width="3" fill="none"/><path d="M115,290 Q100,160 135,130 Q175,112 215,130 Q245,160 238,300 L200,300 L200,230 L135,230 L135,290 Z" fill="#7a3b2a"/><path d="M135,240 L210,240 L210,296 L135,296 Z" fill="#f4c4ae"/><ellipse cx="168" cy="205" rx="46" ry="66" fill="#f4c4ae"/><path d="M122,190 Q126,128 170,126 Q220,128 222,195 L212,190 Q205,160 172,155 Q135,158 130,195 Z" fill="#7a3b2a"/><circle cx="150" cy="192" r="5" fill="#1d1d2b"/><circle cx="185" cy="192" r="5" fill="#1d1d2b"/><path d="M118,218 Q160,202 208,214 Q210,262 168,272 Q122,266 118,218 Z" fill="#f4f6f8"/><path d="M128,232 Q165,238 200,230 M128,248 Q165,254 198,246" stroke="#d5dde5" stroke-width="2.5" fill="none"/><path d="M15,466 Q40,380 90,304 L120,298 L110,470 Z" fill="#f6f7f9"/><path d="M225,308 Q282,300 290,360 L290,500 L270,512 L228,505 Z" fill="#f6f7f9"/><path d="M72,300 L130,292 L168,322 L205,292 L262,304 L262,580 L270,600 L88,600 L80,584 Z" fill="#1c3260"/><rect x="88" y="584" width="175" height="16" fill="#233340"/><path d="M117,282 L168,310 L150,325 L112,300 Z" fill="#fff"/><path d="M228,282 L168,310 L188,325 L232,302 Z" fill="#fff"/><path d="M160,306 L176,306 L168,318 Z" fill="#9dc3ee"/><path d="M77,350 L210,350 L210,526 L80,526 Z" fill="#9dcbf5"/><path d="M8,474 L75,429 L115,439 L150,459 L220,474 L272,504 L270,529 L210,524 L145,494 L75,509 L15,509 Z" fill="#f4c4ae"/></svg>
<svg style="left:477.5px;top:4518.3px" width="229.5" height="229" viewBox="0 0 600 600" preserveAspectRatio="none"><rect width="600" height="600" fill="#acd5b0"/><path d="M100,425 L140,330 L205,255 L285,205 L345,205 L432,245 L487,312 L505,430 L492,600 L150,600 L132,525 Z" fill="#52b468"/><path d="M140,330 L205,255 L235,240 L220,460 L160,500 L130,520 L100,425 Z" fill="#47a65c"/><path d="M345,560 Q420,500 480,520 L492,600 L350,600 Z" fill="#47a65c"/><path d="M104,378 L192,392 L186,412 L100,402 Z" fill="#f2f6f2"/><path d="M215,402 L505,400 L505,426 L215,428 Z" fill="#f2f6f2"/><rect x="344" y="303" width="56" height="14" rx="5" fill="#f2f6f2"/><path d="M312,212 L322,212 L322,600 L312,600 Z" fill="#111"/><path d="M285,205 L315,240 L345,205 L330,202 L315,220 L300,202 Z" fill="#3f9d55"/><path d="M236,240 L254,240 L212,600 L192,600 Z" fill="#111"/><path d="M230,235 Q245,225 258,240 L255,265 L230,262 Z" fill="#6cc77a"/><path d="M136,540 L124,600 L138,600 L150,540 Z" fill="#111"/><path d="M52,552 Q60,540 100,542 L262,552 L266,600 L50,600 Z" fill="#6cc87a"/><path d="M80,560 L240,568 L240,585 L90,580 Z" fill="#5fbd6e"/><path d="M180,470 Q215,445 250,462 L255,505 Q220,525 185,505 Z" fill="#f4c4ae"/><path d="M290,170 L340,170 L345,215 L285,215 Z" fill="#f4c4ae"/><ellipse cx="318" cy="140" rx="52" ry="68" fill="#f4c4ae"/><path d="M258,130 Q255,80 270,80 L268,160 Z" fill="#1e1e1e"/><path d="M378,130 Q382,80 368,80 L370,160 Z" fill="#1e1e1e"/><path d="M252,70 Q255,18 318,15 Q380,18 382,75 L382,90 L252,90 Z" fill="#4caf62"/><rect x="308" y="16" width="18" height="52" fill="#f4f4f4"/><path d="M255,72 Q318,55 380,72 L380,95 Q318,82 255,95 Z" fill="#f0f0f0"/><circle cx="297" cy="108" r="5" fill="#1d1d2b"/><circle cx="338" cy="108" r="5" fill="#1d1d2b"/><path d="M283,94 L307,97" stroke="#2a2323" stroke-width="5" stroke-linecap="round"/><path d="M328,97 L352,94" stroke="#2a2323" stroke-width="5" stroke-linecap="round"/><path d="M265,124.0 Q315.0,109.0 365,124.0 L360.0,171.25 Q315.0,196.0 270.0,171.25 Z" fill="#dfe9f1"/><path d="M275.0,139.75 Q315.0,143.75 355.0,139.75" stroke="#b9cfe0" stroke-width="3" fill="none"/><path d="M275.0,154.0 Q315.0,158.0 355.0,154.0" stroke="#b9cfe0" stroke-width="3" fill="none"/><path d="M275.0,167.5 Q315.0,171.5 355.0,167.5" stroke="#b9cfe0" stroke-width="3" fill="none"/></svg>
<svg style="left:763.3px;top:4518.3px" width="228.2" height="229.2" viewBox="0 0 600 600" preserveAspectRatio="none"><rect width="600" height="600" fill="#acd5b0"/><path d="M130,600 L135,330 L165,272 L270,235 L330,235 L440,265 L485,330 L492,600 Z" fill="#f2cc83"/><path d="M160,290 L140,600 L200,600 L205,330 Z" fill="#eec178"/><path d="M262,200 L338,200 L340,262 L300,305 L260,262 Z" fill="#f4c4ae"/><path d="M262,250 L300,305 L250,295 L232,262 Z" fill="#f7d895"/><path d="M338,250 L300,305 L355,295 L370,262 Z" fill="#f7d895"/><path d="M172,262 L240,245 L245,262 L178,280 Z" fill="#d9512c"/><path d="M360,248 L445,262 L440,278 L356,262 Z" fill="#d9512c"/><rect x="215" y="340" width="75" height="80" rx="6" fill="#e5b966"/><rect x="215" y="340" width="75" height="24" fill="#eac071"/><rect x="340" y="340" width="72" height="80" rx="6" fill="#e5b966"/><rect x="340" y="340" width="72" height="24" fill="#eac071"/><path d="M192,508 L470,508 L470,540 L192,545 Z" fill="#1f2c33"/><rect x="192" y="508" width="30" height="92" fill="#1f2c33"/><rect x="345" y="495" width="55" height="85" rx="6" fill="#1f2c33"/><path d="M398,250 Q430,350 445,480" stroke="#1f2c33" stroke-width="6" fill="none"/><rect x="380" y="218" width="42" height="62" rx="10" fill="#1f2c33"/><rect x="400" y="478" width="58" height="122" rx="10" fill="#1f2c33"/><path d="M440,480 L465,420" stroke="#1f2c33" stroke-width="6"/><ellipse cx="300" cy="165" rx="55" ry="75" fill="#f4c4ae"/><ellipse cx="246" cy="150" rx="10" ry="16" fill="#f4c4ae"/><ellipse cx="354" cy="150" rx="10" ry="16" fill="#f4c4ae"/><path d="M238,150 L238,96 Q250,84 300,84 Q350,84 362,96 L362,150 L354,150 Q348,115 300,114 Q254,115 246,150 Z" fill="#3a2e2a"/><path d="M215,62 Q220,22 300,20 Q380,22 385,62 Q380,85 360,92 L240,92 Q220,85 215,62 Z" fill="#f2d08a"/><path d="M232,70 Q300,52 368,70 L366,88 Q300,72 236,88 Z" fill="#d9512c"/><circle cx="300" cy="42" r="12" fill="#e6bc6c"/><circle cx="278" cy="132" r="5" fill="#1d1d2b"/><circle cx="320" cy="132" r="5" fill="#1d1d2b"/><path d="M264,118 L288,121" stroke="#2a2323" stroke-width="5" stroke-linecap="round"/><path d="M310,121 L334,118" stroke="#2a2323" stroke-width="5" stroke-linecap="round"/><path d="M245,144.24 Q300.0,128.84 355,144.24 L349.5,192.75 Q300.0,218.16 250.5,192.75 Z" fill="#dfe9f1"/><path d="M256.0,160.41 Q300.0,164.41 344.0,160.41" stroke="#b9cfe0" stroke-width="3" fill="none"/><path d="M256.0,175.04 Q300.0,179.04 344.0,175.04" stroke="#b9cfe0" stroke-width="3" fill="none"/><path d="M256.0,188.9 Q300.0,192.9 344.0,188.9" stroke="#b9cfe0" stroke-width="3" fill="none"/></svg>
<svg style="left:170px;top:5065px" width="30" height="25" viewBox="170 5065 30 25"><path d="M176.5,5071.5 L191.8,5071.5 L188.6,5081.5 Z" fill="#f39a2e"/></svg><svg style="left:1010px;top:5030px" width="140" height="80" viewBox="0 0 140 80"><g fill="none" stroke="#a8a8a8" stroke-width="19" stroke-linecap="round" stroke-linejoin="round"><path d="M23,25 L41,25 L23,49 L42,49"/><path d="M54,36 L54,49"/><path d="M68.5,49 L68.5,39 Q68.5,34.5 77,34.5 Q85.5,34.5 85.5,40 L85.5,49"/><path d="M114.7,42 A8.6,7.3 0 1 1 114.7,41.9 M114.7,35 L114.7,54 Q114.7,60 106,60 Q100.5,60 97.5,57"/><circle cx="54" cy="26" r="1"/></g><g fill="none" stroke="#ffffff" stroke-width="14" stroke-linecap="round" stroke-linejoin="round"><path d="M23,25 L41,25 L23,49 L42,49"/><path d="M54,36 L54,49"/><path d="M68.5,49 L68.5,39 Q68.5,34.5 77,34.5 Q85.5,34.5 85.5,40 L85.5,49"/><path d="M114.7,42 A8.6,7.3 0 1 1 114.7,41.9 M114.7,35 L114.7,54 Q114.7,60 106,60 Q100.5,60 97.5,57"/><circle cx="54" cy="26" r="1"/></g><ellipse cx="106.1" cy="42" rx="7" ry="6" fill="#fff"/><g fill="none" stroke-width="6.2" stroke-linecap="round" stroke-linejoin="round"><path d="M23,25 L41,25 L23,49 L42,49" stroke="#2a9bd9"/><path d="M54,36 L54,49" stroke="#4cae4c"/><path d="M68.5,49 L68.5,39 Q68.5,34.5 77,34.5 Q85.5,34.5 85.5,40 L85.5,49" stroke="#f39a1f"/><path d="M114.7,42 A8.6,7.3 0 1 1 114.7,41.9 M114.7,35 L114.7,54 Q114.7,60 106,60 Q100.5,60 97.5,57" stroke="#e6347f"/></g><circle cx="54" cy="25.5" r="3.6" fill="#4cae4c"/></svg>
</body></html>
